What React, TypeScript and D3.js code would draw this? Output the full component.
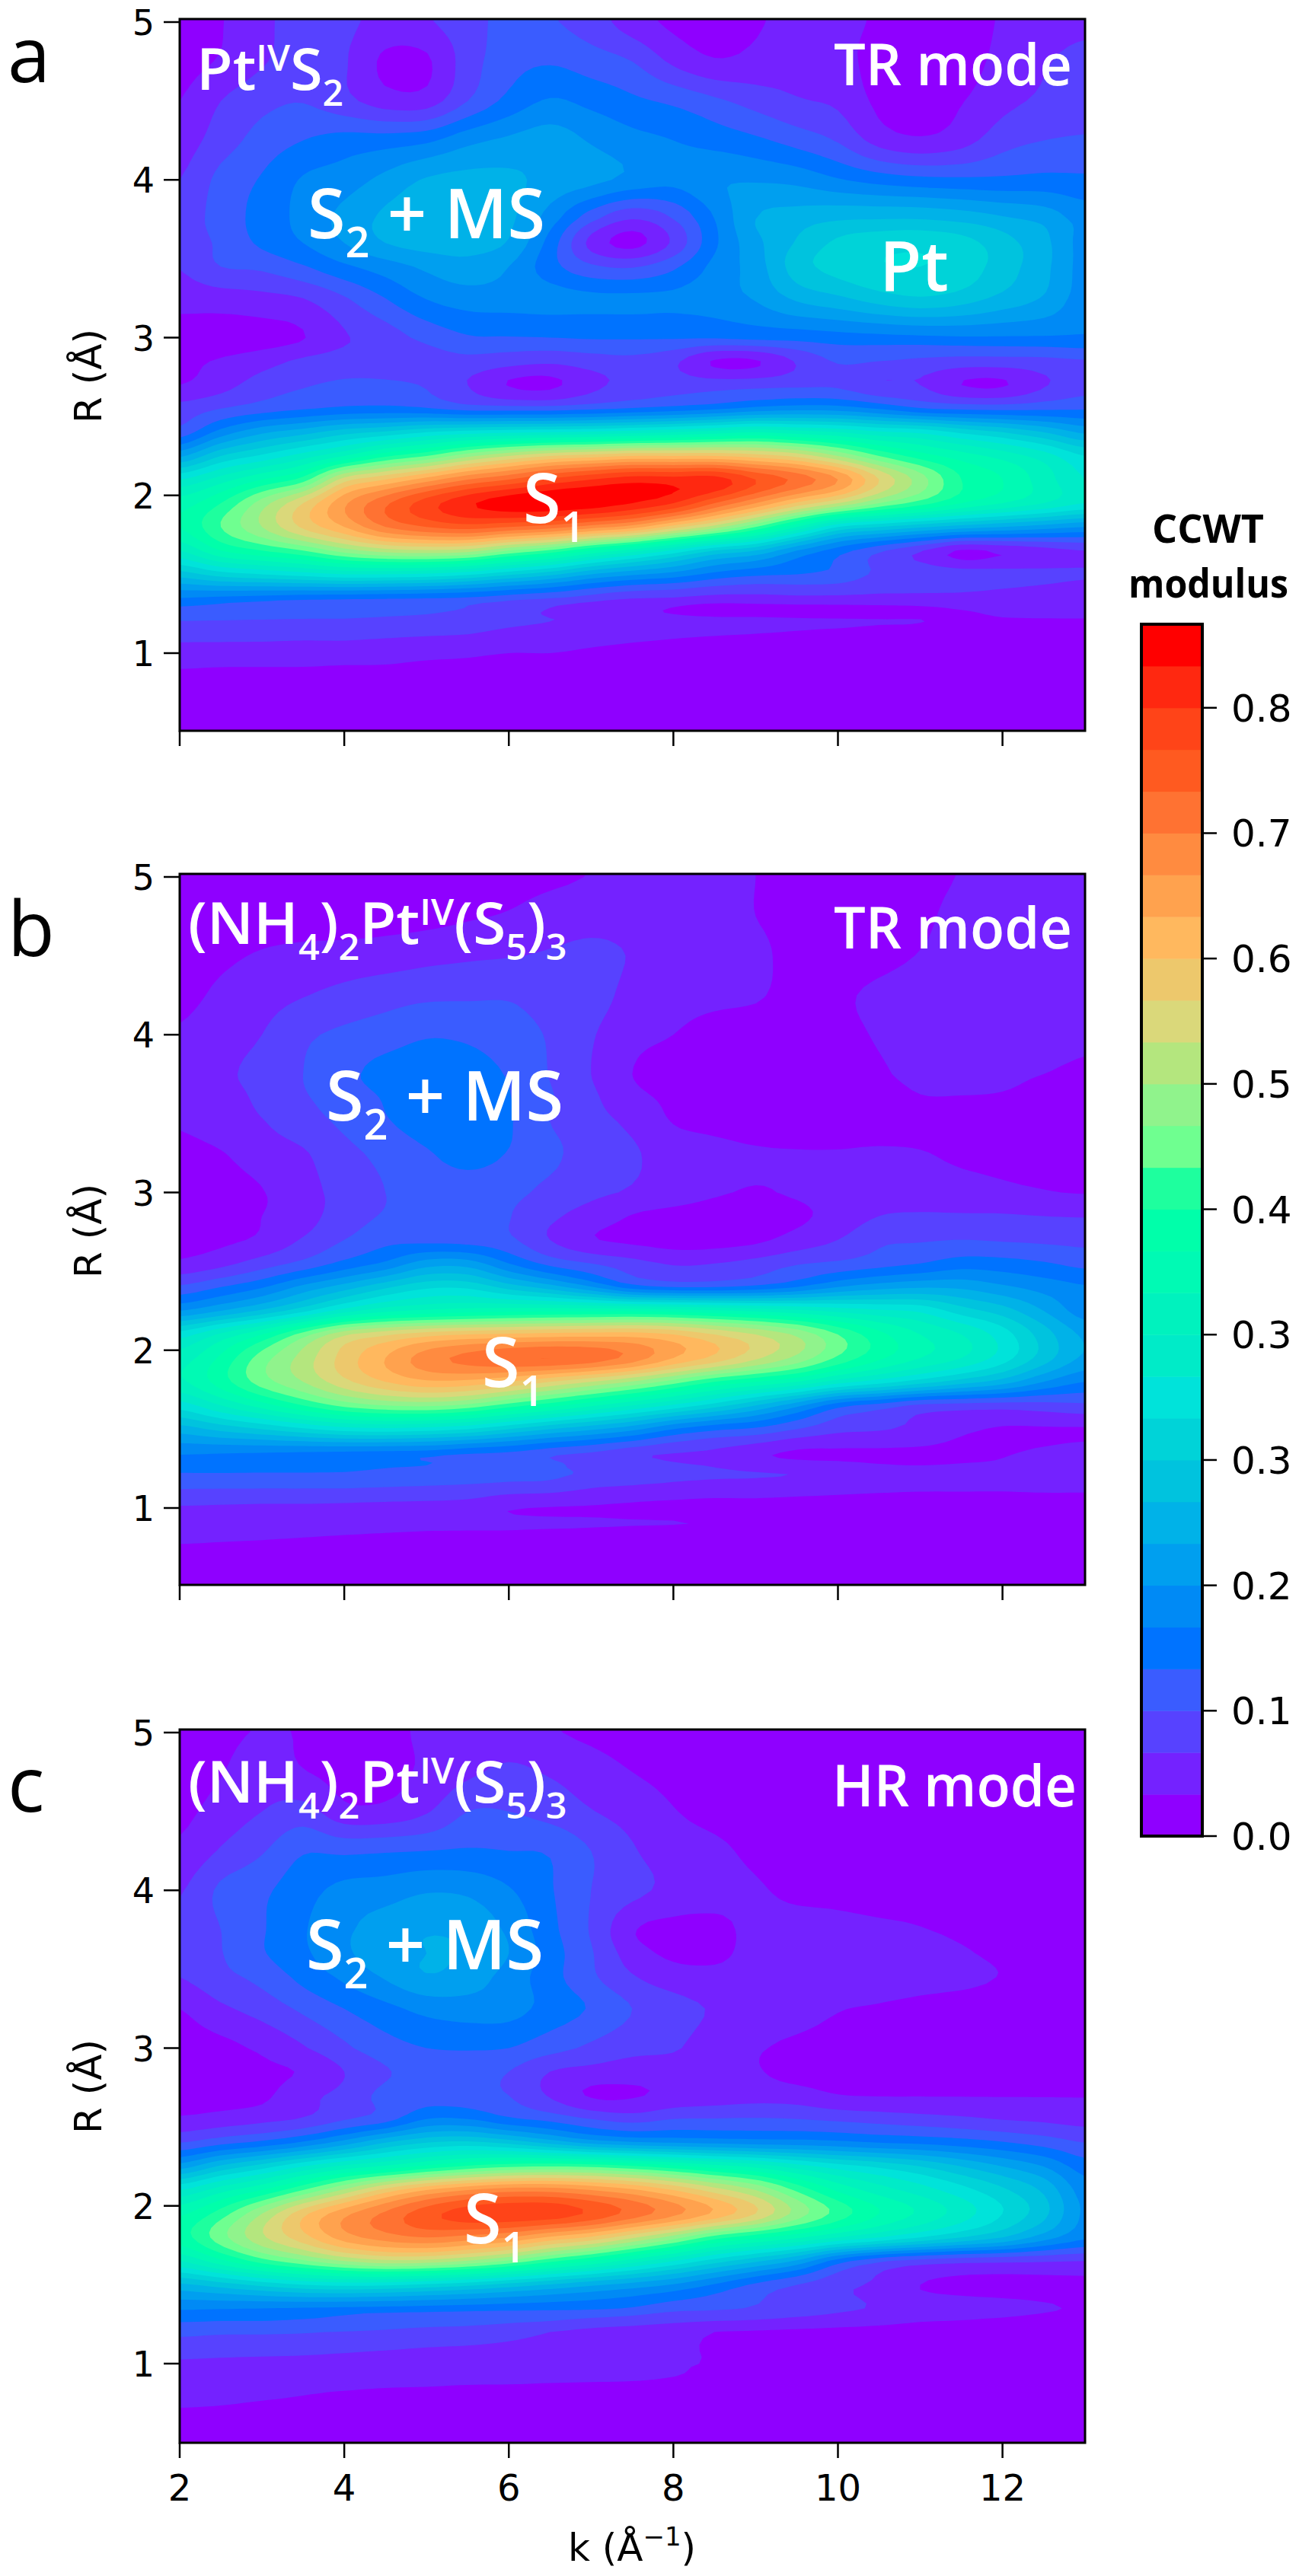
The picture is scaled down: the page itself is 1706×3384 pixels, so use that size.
import React from "react";
import * as d3 from "d3";

// Wavenumber k (1/Å) of the table columns and distance R (Å) of the table rows (top to bottom).
const kValues = [2,2.5,3,3.5,4,4.5,5,5.5,6,6.5,7,7.5,8,8.5,9,9.5,10,10.5,11,11.5,12,12.5,13];
const rValues = [5,4.75,4.5,4.25,4,3.75,3.6,3.45,3.25,3,2.85,2.7,2.55,2.4,2.25,2.1,1.95,1.8,1.65,1.5,1.35,1.27,1.2,1,0.9,0.75,0.5];

// Modulus, in units of one contour level (LEVEL_STEP).
const LEVEL_STEP = 0.0875 / 3;
const LEVEL_COUNT = 29;

const panelA = [
[.7,.95,1.8,2.3,2.2,1.7,1.9,2.6,3.3,3.1,2.5,1.5,.8,.6,.9,1.3,1.2,.9,.6,.6,1.1,1.6,1.8],
[.7,1.1,1.9,2.4,2.1,.8,.85,2.5,3.6,3.9,3.5,3,1.8,1.1,1.3,1.6,1.3,.7,.5,.6,1.3,1.9,2.3],
[1,2,2.7,2.95,2.3,1.5,1.5,3,4.3,5.1,4.7,4.2,3.8,3.2,2.6,2.1,1.8,.8,.6,.95,1.7,2.2,2.7],
[1.5,2.5,3.4,4,4.4,4.5,4.8,5.7,6.2,6.5,5.9,5.3,5,4.6,4.2,3.6,2.9,1.6,1.15,1.6,2.6,3,3.1],
[2,3.3,4.1,5.1,5.5,6.3,7.1,7.3,7.2,6.7,6.3,5.7,5.3,5.9,5.9,5.7,5.1,4.6,4.3,4.2,4.2,4.3,4.2],
[2.5,3.4,4.4,5.3,6.3,7.2,7.5,7.6,7.2,5.5,3.3,2,3,5,7,7.5,7.9,8,8,7.7,7.2,6.7,5.6],
[2.4,3.2,4.2,5,6,7,7.4,7.4,6.9,4.6,1.7,.7,2.2,4.8,6.7,8.1,9.2,9.6,9.7,9.4,8.4,7.3,5.6],
[2.05,3,3.2,3.9,4.8,5.5,6.2,6.6,6,4.4,3.2,2.9,3.8,5.3,6.5,8.5,9.4,9.9,10,9.6,8.5,7.3,5.6],
[1.4,1.5,1.7,2,2.9,4,5.05,5.5,5.5,5.4,5.2,5.2,5.2,5.5,6.1,7.2,7.8,8.5,8.9,8.5,7.7,6.9,5.5],
[.5,.5,.6,.95,1.9,2.5,3.3,3.9,3.95,4,4.1,4.1,4.1,4.1,4.3,4.4,4.6,4.7,4.8,4.9,4.9,4.9,4.9],
[.8,1.1,1.6,2.2,2.5,2.5,2.6,2.7,2.4,2.2,2.5,2.7,2.2,.9,.9,2.1,3.1,3,2.8,2.6,2.6,2.7,2.9],
[1,1.6,2.5,2.9,3.2,3.2,2.9,2,.95,.8,1.7,2.4,2.6,2.6,2.7,2.8,2.8,2.1,2,1,.9,1.9,2.6],
[2.4,3,3.5,3.9,4.2,4.3,4.1,3.6,3.5,3.5,3.8,4.1,4.4,4.8,5.3,5.6,5.5,4.9,4.1,3.8,3.7,3.8,3.9],
[3.4,5.4,6.8,7.6,8.6,9.2,10,10.5,10.8,11,11.2,11.6,12,12.5,13,12.5,12,11.2,10.8,9.8,9,8,6.8],
[6.8,9,10.2,11.5,13,14.8,16,17.7,19,20,20.5,21,21,21,20.5,19.7,18,16,14.5,13.5,12.6,11.5,10],
[11,12.5,14,15.5,19.5,21,22.5,24,25,26.2,27,27.6,27.5,27.5,26,24.7,23,20,17.5,15,14,12.5,11],
[13.5,15,17.5,20,22.8,24.8,26.5,27.8,28.6,28.8,28.6,28,27,25,23,20.8,19,17,15.5,14,13,12,11],
[14,16,18,20.2,22,24,25,25.5,25,24.5,23.5,22.5,20.5,18.5,16,13,10,9,8.2,7.5,7,6.5,6],
[12,14,15,16,17.5,18.5,18.8,18.5,17,15.8,14,12.5,10.8,9,8,6,4.5,3.2,2.1,.9,1.2,1.6,2],
[8.5,9.5,10,10.5,11,11,10.8,10.2,9.2,8.3,7,6.2,5.6,4.7,4.2,4,3.7,2.8,2.6,2.4,2.3,2.2,2.1],
[5,4.8,4.6,4.4,4.3,4.2,4.1,3.9,3.5,3.1,2.6,2.1,1.95,1.7,1.7,1.8,1.8,1.8,1.8,1.8,1.7,1.6,1.5],
[3.7,3.6,3.5,3.45,3.4,3.3,3.2,2.9,2.7,1.9,1.6,1.3,.9,.6,.6,.6,.6,.6,.7,.97,1.2,1.3,1.3],
[2.95,2.9,2.85,2.8,2.8,2.7,2.6,2.5,2.2,2,1.8,1.6,1.4,1.3,1.25,1.15,1.1,1.05,1.02,.8,.85,.85,.85],
[1.55,1.55,1.55,1.5,1.5,1.4,1.3,1.2,1,1,.85,.7,.6,.5,.4,.4,.3,.25,.25,.2,.2,.2,.2],
[1,.95,.95,.95,.9,.9,.8,.75,.7,.6,.5,.4,.3,.3,.2,.2,.2,.2,.2,.2,.2,.2,.2],
[.5,.6,.7,.7,.7,.6,.6,.5,.4,.35,.3,.3,.2,.2,.2,.2,.2,.15,.15,.15,.15,.15,.15],
[.2,.2,.2,.2,.2,.15,.15,.15,.15,.15,.15,.15,.1,.1,.1,.1,.1,.1,.1,.1,.1,.1,.1],
];

const panelB = [
[.3,.3,.3,.3,.3,.3,.4,.5,.6,.8,1.05,1.4,1.5,1.3,1,.7,.5,.5,.7,1.05,1.3,1.4,1.5],
[.3,.4,.5,.5,.5,.6,.7,.9,1.1,1.5,1.7,1.7,1.5,1.3,1,.7,.5,.5,.8,1.3,1.5,1.6,1.6],
[.5,.8,1.1,1.3,1.4,1.5,1.7,1.85,1.95,2.1,2.2,1.95,1.6,1.4,1.2,.7,.5,.7,1.05,1.4,1.6,1.7,1.7],
[.7,1.2,1.6,1.95,2.3,2.6,2.8,2.85,2.9,2.6,2.4,1.7,1.4,1.25,1.1,.7,.85,1.2,1.5,1.7,1.8,1.85,1.8],
[1.1,1.6,2,2.8,3.2,3.5,3.9,3.8,3.4,2.9,2.1,1.3,1,.6,.5,.4,.7,1.1,1.5,1.8,1.9,1.85,1.4],
[1.2,1.8,2.3,3,3.7,4.4,4.7,4.5,3.9,2.95,2,1,.6,.4,.3,.3,.4,.85,1.3,1.5,1.3,1,.7],
[1.2,1.6,2.2,2.9,3.4,4.1,4.7,4.7,4.05,3.1,2.2,1.3,.8,.5,.4,.3,.4,.6,.95,.95,.9,.7,.5],
[1.1,1.5,1.95,2.6,3.2,3.9,4.5,4.7,4.1,3,2.3,1.8,.95,.7,.5,.5,.6,.7,.7,.6,.5,.4,.3],
[.7,.95,1.5,1.9,2.7,3.3,3.9,4.4,3.95,3.3,2.4,2.1,1.6,1.3,1.1,1.05,1.05,1.1,1.05,.8,.7,.6,.5],
[.5,.6,.95,1.7,2.3,3,3.4,3.5,3.3,2.7,2.2,1.9,1.5,1.1,.95,1.1,1.4,1.6,1.6,1.4,1.2,1.05,.95],
[.5,.7,1,1.6,2.5,3.1,3.4,3.6,3.05,2.2,1.6,.95,.7,.6,.6,.8,1.4,2,2.1,2.1,2.1,2,1.95],
[.6,.8,1.2,2.1,3,3.7,3.7,3.6,3.2,2,1.1,.8,.6,.6,.8,1.4,2,2.8,2.9,3,2.9,2.8,2.7],
[1.2,1.7,2.5,3.3,4.3,5.2,6.5,6.5,5,3.7,3,2.4,1.9,2,2.4,2.9,3.2,3.6,4,4.5,4.4,4.1,3.7],
[3.2,4,4.9,6.3,7.5,8.8,9.8,9.8,8.6,7.5,6.1,4.5,4,4,4.3,5,6,6.6,6.9,6.8,6.2,5.6,5.1],
[6,7,8.2,9.7,11.5,12.7,13.2,13.5,13.7,13.8,13.8,13.8,13.6,13.2,12.8,12.3,11.7,11.2,10.8,9.5,8.5,7,5.5],
[10.5,12.2,14,16.5,18.8,19.8,20.6,21,21.2,21.4,21.5,21.5,21,20,19,17.8,16,14.3,13,12,10.5,8.5,6.8],
[12.5,14.2,16.5,18.4,20.4,22,23.5,24.3,24.8,25,24.6,23.6,22,20.7,19.2,17.7,15.8,14.2,13,12,10.5,8.5,6.8],
[12.8,14.5,16.5,18,19.7,21,21.8,21.7,21,20,19,17.9,16.5,15,14,13,11.5,10.5,9.5,8.5,7.5,6,5],
[10.5,12,13.5,15,16.3,17,17.2,16.7,15.5,14.4,13.2,12,10.8,9.5,8,6.3,4.4,3.6,2.8,2.6,2.5,2.6,2.8],
[7.5,8.3,9,9.8,10.5,10.7,10.5,10,9,8,7.2,6.3,5,4.2,3.8,3,2.3,2.1,1.7,1.2,.9,.9,.9],
[5.2,5.1,5,4.9,4.8,4.7,4.6,4.2,3.9,3.4,2.95,2.4,2.05,1.8,1.3,.85,.85,.85,.85,.85,.95,1.1,1.3],
[4.4,4.4,4.3,4.3,4.2,4.1,4,3.8,3.6,3.2,2.7,2.5,2.1,1.95,1.6,1.4,1.2,1.05,1,1.05,1.1,1.3,1.4],
[3.7,3.7,3.7,3.7,3.7,3.6,3.5,3.4,3.3,3.2,2.6,2.4,2.2,2.1,2.05,1.95,1.7,1.5,1.4,1.4,1.4,1.5,1.5],
[1.9,1.85,1.8,1.8,1.75,1.7,1.65,1.55,1.1,.95,.9,.8,.7,.6,.6,.5,.5,.5,.5,.5,.5,.5,.5],
[1.5,1.45,1.4,1.4,1.35,1.3,1.25,1.25,1.2,1.15,1.1,1.05,1.02,.95,.8,.6,.5,.4,.4,.4,.4,.4,.4],
[.9,.85,.8,.7,.6,.5,.4,.3,.3,.2,.2,.2,.2,.15,.15,.15,.15,.15,.15,.15,.15,.15,.15],
[.1,.1,.1,.1,.1,.1,.1,.1,.1,.1,.1,.1,.1,.1,.1,.1,.1,.1,.1,.1,.1,.1,.1],
];

const panelC = [
[.5,.8,1.05,.95,.7,.7,1.2,1.4,1.5,1.1,.8,.5,.4,.3,.3,.2,.2,.2,.2,.2,.2,.2,.2],
[.5,.95,1.5,1.05,.7,.7,1.2,1.8,2.2,1.9,1.5,1,.7,.5,.4,.3,.3,.3,.2,.2,.2,.2,.2],
[.75,1.4,2,2.4,1.3,1.3,1.9,3,3,2.6,2.05,1.6,1.05,.7,.5,.4,.3,.3,.3,.2,.2,.2,.2],
[1.2,2.1,2.9,3.9,3.8,3.9,4,4.1,4,3.9,3,2.1,1.5,1.2,.8,.6,.5,.4,.3,.3,.2,.2,.2],
[1.9,3.2,3.8,4.6,5.3,5.5,5.9,5.8,5.1,4.1,3,2.3,1.7,1.3,1.1,.8,.7,.5,.4,.3,.3,.2,.2],
[2.3,3,3.9,4.9,5.8,6.5,6.9,6.7,5.8,4.3,2.9,1.1,.7,.8,1.2,1.35,1.3,1.2,1.05,.8,.6,.5,.4],
[2.2,2.95,3.9,4.8,5.8,6.6,7,6.9,6,4.5,3.1,1.5,.8,.8,1.3,1.5,1.5,1.4,1.3,1.1,.8,.6,.4],
[2,2.7,3.3,4.3,5.2,6.1,6.9,6.5,5.6,4.4,3.2,2.1,1.5,1.3,1.4,1.5,1.5,1.5,1.4,1.3,.95,.7,.5],
[1,1.8,2.4,3.2,4,4.7,5.3,5.5,5.4,4.6,3.9,3,2.4,1.9,1.6,1.4,1.05,.9,.7,.5,.4,.3,.2],
[.5,.7,1.2,1.9,2.8,3.6,4,4.1,4,3.4,2.8,2.3,2.1,1.5,1.1,.8,.6,.5,.4,.4,.4,.5,.6],
[.3,.4,.8,1.1,2,2.9,3.4,3.4,3,2,1.7,1.5,1.5,1.5,1.1,.6,.4,.4,.4,.4,.4,.4,.4],
[.5,.6,.8,1.7,2.3,3.3,3.5,3.4,3,1.9,.9,.9,1.3,1.5,1.6,1.5,1.05,.95,.95,.95,.95,.95,.95],
[1.15,1.4,1.7,2.1,2.9,3.6,5,5,4.2,3.7,3,2.6,3,3.05,3.1,3,2.8,2.6,2.4,2.2,1.95,1.8,1.6],
[3,3.7,4.3,5.2,6.5,8,9,9.3,8.7,7.7,6.7,6.2,6,5.8,5.6,5.5,5.3,5,4.8,4.5,4.1,3.6,3],
[6.5,8.2,9.5,11,12.3,13.2,14.3,15.2,15.8,16,15.8,15.2,14.4,13.5,12.7,11.5,10.5,9.8,9,8,7,6,4.5],
[11,12.6,14,16,18.2,20.4,22,23,23.6,23.6,23,22.2,21,19.5,18,15.8,13.8,12.5,11.5,10.4,9.2,7.8,5.5],
[13.8,15.5,18,20.7,22.7,24.2,25.6,26.5,26.7,26.6,25.8,24.6,23.3,21.8,20,17.6,15.6,14,12.8,11.5,10,8.3,5.8],
[14.5,16.6,18.8,20.6,22.5,23.5,24,23.6,23,21.8,20.8,19.2,17.5,15.5,14.3,13.2,12,11,10,9,8,6.5,5.2],
[12,13.7,15.5,16.8,18,18.7,18.6,17.9,16.8,15.3,14,12.5,11,9.5,8.2,6.8,4.5,3.2,2.6,2.3,2.2,2.1,2],
[7.8,8.5,9.3,10,10.3,10.2,9.8,9.3,8.6,7.9,7.2,6.6,5.9,4.9,3.8,3,2.3,1.8,1,.8,.7,.7,.7],
[5.2,5.1,5,4.9,4.8,4.7,4.6,4.5,4.4,4.3,4.2,3.9,3.4,3.2,2.9,2.6,2.2,1.9,1.6,1.4,1.3,1.1,.9],
[4.1,4,4,3.9,3.8,3.6,3.5,3.4,3.2,3,2.7,2.5,2.2,2,1.9,1.7,1.5,1.3,1.05,.97,.85,.7,.6],
[3.2,3.1,3.1,3.05,2.95,2.8,2.6,2.5,2.3,2,1.7,1.5,1.3,1,.9,.8,.7,.6,.5,.5,.5,.5,.4],
[1.85,1.8,1.75,1.7,1.6,1.5,1.45,1.4,1.35,1.3,1.2,1.1,1.05,.95,.7,.5,.4,.3,.3,.2,.2,.2,.2],
[1.35,1.3,1.3,1.25,1.25,1.2,1.2,1.15,1.15,1.1,1.08,1.05,.95,.8,.6,.4,.3,.3,.2,.2,.2,.2,.2],
[1.1,1.05,.95,.85,.7,.6,.5,.4,.3,.3,.2,.2,.2,.15,.15,.15,.15,.15,.15,.15,.15,.15,.15],
[.1,.1,.1,.1,.1,.1,.1,.1,.1,.1,.1,.1,.1,.1,.1,.1,.1,.1,.1,.1,.1,.1,.1],
];

// Colour of each contour band, lowest first.
const bandColors = [
"#8F00FF","#7422FF","#5742FF","#3A5CFF","#0073FF","#008AF5","#009FEF","#00B2E8","#00C3DE","#00D3D8",
"#00E3DA","#00EBC8","#00F2BE","#00FAB4","#00FFAA","#1EFF9E","#6FFF90","#90F38C","#B4E67E","#DAD87A",
"#EDC86C","#FFB85E","#FFA24E","#FF8B40","#FF7232","#FF5A20","#FF4418","#FF2810","#FF0000",
];

const rTicks = [1,2,3,4,5];
const kTicks = [2,4,6,8,10,12];
const colorbarTicks = [0,0.0875,0.175,0.2625,0.35,0.4375,0.525,0.6125,0.7,0.7875];
const colorbarLabels = ["0.0","0.1","0.2","0.3","0.3","0.4","0.5","0.6","0.7","0.8"];

type Seg = { t: string; s?: "sub" | "sup" };
const ptS2: Seg[] = [{t:"Pt"},{t:"IV",s:"sup"},{t:"S"},{t:"2",s:"sub"}];
const nh4: Seg[] = [{t:"(NH"},{t:"4",s:"sub"},{t:")"},{t:"2",s:"sub"},{t:"Pt"},{t:"IV",s:"sup"},{t:"(S"},{t:"5",s:"sub"},{t:")"},{t:"3",s:"sub"}];
const s2ms: Seg[] = [{t:"S"},{t:"2",s:"sub"},{t:" + MS"}];
const s1: Seg[] = [{t:"S"},{t:"1",s:"sub"}];

const SANS = "'DejaVu Sans', sans-serif";
const CAL = "'Open Sans', sans-serif";

const Rich = ({ x, y, segs, size, sx = 1 }: { x: number; y: number; segs: Seg[]; size: number; sx?: number }) => {
  let off = 0;
  return (
    <text transform={`translate(${x},${y}) scale(${sx},1)`} fontFamily={CAL} fontWeight={600} fontSize={size} fill="#fff" xmlSpace="preserve">
      {segs.map((g, i) => {
        const target = g.s === "sub" ? size * 0.28 : g.s === "sup" ? -size * 0.33 : 0;
        const dy = target - off;
        off = target;
        return <tspan key={i} dy={dy} fontSize={g.s ? size * 0.62 : size}>{g.t}</tspan>;
      })}
    </text>
  );
};

// One extra row and column on each side, so that contour rings close outside the frame.
const pad = (rows: number[][]) => {
  if (rows.length !== rValues.length) throw new Error("bad rows " + rows.length);
  const wide = rows.map(r => {
    if (r.length !== kValues.length) throw new Error("bad row length " + r.length);
    return [r[0], ...r, r[r.length - 1]];
  });
  return [wide[0], ...wide, wide[wide.length - 1]];
};

const kIdx = [1.5, ...kValues, 13.5];
const rIdx = [5.3, ...rValues, 0.2];
const kOfIndex = d3.scaleLinear().domain(kIdx.map((_, i) => i)).range(kIdx);
const rOfIndex = d3.scaleLinear().domain(rIdx.map((_, i) => i)).range(rIdx);

// Draw-time Catmull-Rom refinement of the table, so the contour outlines come out smooth.
const REFINE = 5;
const cr = (a: number, b: number, c: number, d: number, t: number) =>
  0.5 * (2 * b + (c - a) * t + (2 * a - 5 * b + 4 * c - d) * t * t + (3 * b - a - 3 * c + d) * t * t * t);
const refineRows = (g: number[][]) => {
  const out: number[][] = [];
  for (let j = 0; j < g.length - 1; j++) {
    const p0 = g[Math.max(j - 1, 0)], p1 = g[j], p2 = g[j + 1], p3 = g[Math.min(j + 2, g.length - 1)];
    for (let s = 0; s < REFINE; s++) out.push(p1.map((_, i) => cr(p0[i], p1[i], p2[i], p3[i], s / REFINE)));
  }
  out.push(g[g.length - 1]);
  return out;
};
const transpose = (g: number[][]) => g[0].map((_, i) => g.map(r => r[i]));
const refine = (g: number[][]) => transpose(refineRows(transpose(refineRows(g))));

type PanelProps = {
  id: string; rows: number[][]; top: number; bottom: number; r5: number; r1: number;
  showK: boolean; letter: string; letterY: number; labelCY: number;
  children?: React.ReactNode;
};

const LEFT = 236, RIGHT = 1425;
const x = d3.scaleLinear().domain([2, 12]).range([236, 1316.6]);

const Panel = ({ id, rows, top, bottom, r5, r1, showK, letter, letterY, labelCY, children }: PanelProps) => {
  const y = d3.scaleLinear().domain([5, 1]).range([r5, r1]);
  const grid = refine(pad(rows));
  const nx = grid[0].length, ny = grid.length;
  const values = grid.flat().map(v => v * LEVEL_STEP);
  const thresholds = d3.range(1, LEVEL_COUNT).map(t => t * LEVEL_STEP);
  const polys = d3.contours().size([nx, ny]).thresholds(thresholds)(values);
  const line = d3.line<number[]>()
    .x(p => x(kOfIndex((p[0] - 0.5) / REFINE)))
    .y(p => y(rOfIndex((p[1] - 0.5) / REFINE)));
  return (
    <g>
      <clipPath id={id}><rect x={LEFT} y={top} width={RIGHT - LEFT} height={bottom - top} /></clipPath>
      <g clipPath={`url(#${id})`}>
        <rect x={LEFT} y={top} width={RIGHT - LEFT} height={bottom - top} fill={bandColors[0]} />
        {polys.map((c, i) => {
          const d = c.coordinates.flat().map(ring => line(ring as number[][]) + "Z").join("");
          return <path key={i} d={d} fill={bandColors[i + 1]} fillRule="evenodd" />;
        })}
      </g>
      <rect x={LEFT} y={top} width={RIGHT - LEFT} height={bottom - top} fill="none" stroke="#000" strokeWidth={3} />
      {rTicks.map(t => (
        <g key={t}>
          <line x1={LEFT - 21} x2={LEFT} y1={y(t)} y2={y(t)} stroke="#000" strokeWidth={2.5} />
          <text x={LEFT - 33} y={y(t) + 17} textAnchor="end" fontFamily={SANS} fontSize={46}>{t}</text>
        </g>
      ))}
      {kTicks.map(t => (
        <g key={t}>
          <line x1={x(t)} x2={x(t)} y1={bottom} y2={bottom + 20} stroke="#000" strokeWidth={2.5} />
          {showK && <text x={x(t)} y={bottom + 76} textAnchor="middle" fontFamily={SANS} fontSize={48}>{t}</text>}
        </g>
      ))}
      <text transform={`translate(133,${labelCY}) rotate(-90)`} textAnchor="middle" fontFamily={SANS} fontSize={50}>R (Å)</text>
      <text x={10} y={letterY} fontFamily={CAL} fontSize={101}>{letter}</text>
      {children}
    </g>
  );
};

export default function App() {
  const barY = d3.scaleLinear().domain([0, LEVEL_COUNT * LEVEL_STEP]).range([2412, 820]);
  return (
    <svg width={1706} height={3384} style={{ position: "absolute", left: 0, top: 0, background: "#fff" }}>
      <Panel id="pa" rows={panelA} top={25} bottom={960} r5={29} r1={858} showK={false} letter="a" letterY={108} labelCY={494}>
        <Rich x={258} y={118} segs={ptS2} size={76} sx={1.02} />
        <text x={1095} y={112} fontFamily={CAL} fontWeight={600} fontSize={76} fill="#fff" textLength={313} lengthAdjust="spacingAndGlyphs">TR mode</text>
        <Rich x={404} y={313} segs={s2ms} size={90} />
        <Rich x={1155} y={382} segs={[{t:"Pt"}]} size={90} />
        <Rich x={687} y={687} segs={s1} size={90} />
      </Panel>
      <Panel id="pb" rows={panelB} top={1148} bottom={2082} r5={1152} r1={1981} showK={false} letter="b" letterY={1256} labelCY={1617}>
        <Rich x={247} y={1240} segs={nh4} size={76} sx={1.03} />
        <text x={1095} y={1246} fontFamily={CAL} fontWeight={600} fontSize={76} fill="#fff" textLength={313} lengthAdjust="spacingAndGlyphs">TR mode</text>
        <Rich x={428} y={1472} segs={s2ms} size={90} />
        <Rich x={633} y={1822} segs={s1} size={90} />
      </Panel>
      <Panel id="pc" rows={panelC} top={2272} bottom={3209} r5={2276} r1={3105} showK={true} letter="c" letterY={2380} labelCY={2741}>
        <Rich x={247} y={2368} segs={nh4} size={76} sx={1.03} />
        <text x={1093} y={2373} fontFamily={CAL} fontWeight={600} fontSize={76} fill="#fff" textLength={321} lengthAdjust="spacingAndGlyphs">HR mode</text>
        <Rich x={402} y={2587} segs={s2ms} size={90} />
        <Rich x={609} y={2947} segs={s1} size={90} />
      </Panel>
      <text x={830} y={3364} textAnchor="middle" fontFamily={SANS} fontSize={50} xmlSpace="preserve">
        k (Å<tspan dy={-20} fontSize={34}>−1</tspan><tspan dy={20}>)</tspan>
      </text>

      {bandColors.map((c, i) => (
        <rect key={c} x={1499} width={80} y={barY((i + 1) * LEVEL_STEP)} height={barY(i * LEVEL_STEP) - barY((i + 1) * LEVEL_STEP) + 0.5} fill={c} />
      ))}
      <rect x={1499} y={820} width={80} height={1592} fill="none" stroke="#000" strokeWidth={4} />
      {colorbarTicks.map((t, i) => (
        <g key={i}>
          <line x1={1579} x2={1598} y1={barY(t)} y2={barY(t)} stroke="#000" strokeWidth={2.5} />
          <text x={1617} y={barY(t) + 18} fontFamily={SANS} fontSize={50}>{colorbarLabels[i]}</text>
        </g>
      ))}
      <text x={1513} y={713} fontFamily={CAL} fontWeight={700} fontSize={52} textLength={147} lengthAdjust="spacingAndGlyphs">CCWT</text>
      <text x={1482} y={785} fontFamily={CAL} fontWeight={700} fontSize={52} textLength={210} lengthAdjust="spacingAndGlyphs">modulus</text>
    </svg>
  );
}
